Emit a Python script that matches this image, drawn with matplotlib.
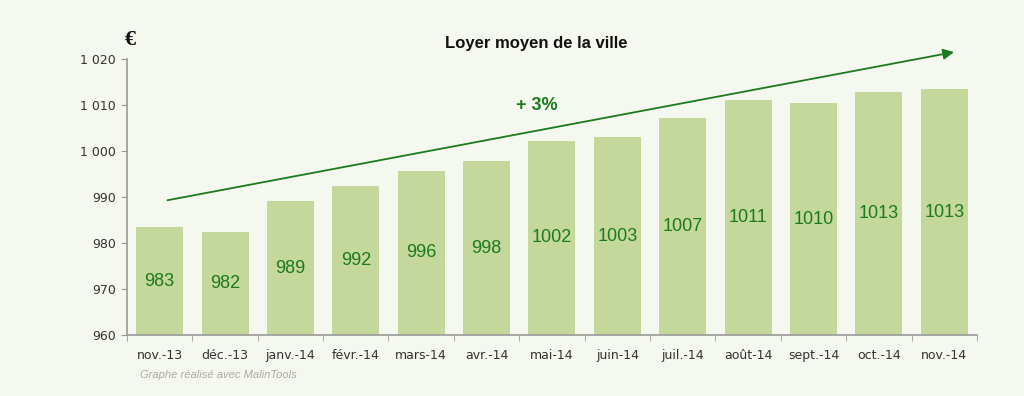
import numpy as np
import matplotlib.pyplot as plt

months = ["nov.-13", "déc.-13", "janv.-14", "févr.-14", "mars-14", "avr.-14", "mai-14",
          "juin-14", "juil.-14", "août-14", "sept.-14", "oct.-14", "nov.-14"]
loyer = [983.4, 982.4, 989.1, 992.3, 995.7, 997.8, 1002.2,
         1003.0, 1007.1, 1011.1, 1010.4, 1012.8, 1013.4]
yticks = [960, 970, 980, 990, 1000, 1010, 1020]
ytick_labels = ["960", "970", "980", "990", "1 000", "1 010", "1 020"]

bg = "#f5f8ef"
bar_color = "#c4d89c"
green = "#1b7a1b"

fig = plt.figure(figsize=(10.24, 3.96), dpi=100, facecolor=bg)
ax = fig.add_axes([0.124, 0.154, 0.830, 0.697])
ax.set_facecolor(bg)

x = np.arange(len(months))
ax.bar(x, np.array(loyer) - 960, bottom=960, width=0.72, color=bar_color, zorder=2)

for xi, v in zip(x, loyer):
    ax.text(xi, (960 + v) / 2, f"{round(v):d}", ha="center", va="center",
            color=green, fontsize=13, family="Liberation Sans", zorder=3)

ax.set_xlim(-0.5, len(months) - 0.5)
ax.set_ylim(960, 1020)
ax.set_yticks(yticks)
ax.set_yticklabels(ytick_labels, fontsize=9, color="#333333")
ax.set_xticks(x)
ax.set_xticklabels(months, fontsize=9, color="#333333")
ax.set_xticks(np.arange(len(months) + 1) - 0.5, minor=True)
ax.tick_params(axis="x", which="major", length=0, pad=10)
ax.tick_params(axis="x", which="minor", length=4, color="#999999")
ax.tick_params(axis="y", length=4, color="#999999", pad=4)

for s in ["top", "right"]:
    ax.spines[s].set_visible(False)
for s in ["left", "bottom"]:
    ax.spines[s].set_color("#999999")
    ax.spines[s].set_linewidth(1.2)

# trend arrow
ax.annotate("", xy=(12.15, 1021.5), xytext=(0.12, 989.3),
            arrowprops=dict(arrowstyle="-|>", color=green, lw=1.3, mutation_scale=16,
                            shrinkA=0, shrinkB=0),
            annotation_clip=False, zorder=4)
ax.text(5.77, 1010, "+ 3%", ha="center", va="center", color=green,
        fontsize=13, fontweight="bold", family="Liberation Sans")

fig.text(0.524, 0.89, "Loyer moyen de la ville", ha="center", va="center",
         fontsize=12, fontweight="bold", family="Liberation Sans", color="#111111")
fig.text(0.127, 0.898, "€", ha="center", va="center", fontsize=16,
         fontweight="bold", family="Liberation Serif", color="#111111")
fig.text(0.137, 0.052, "Graphe réalisé avec MalinTools", ha="left", va="center",
         fontsize=8, style="italic", color="#aaaaaa", family="Liberation Sans")

fig.savefig("out.png", dpi=100, facecolor=bg)
